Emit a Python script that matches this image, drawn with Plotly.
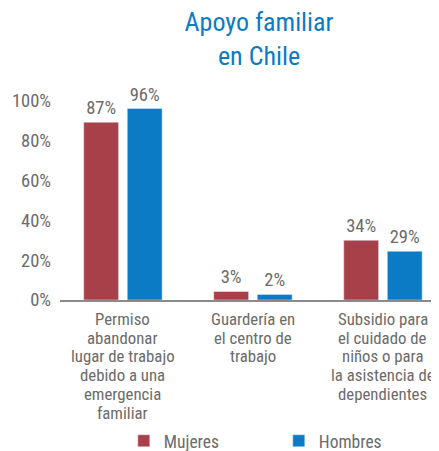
import plotly.graph_objects as go

categories = ["Permiso<br>abandonar<br>lugar de trabajo<br>debido a una<br>emergencia<br>familiar",
              "Guardería en<br>el centro de<br>trabajo",
              "Subsidio para<br>el cuidado de<br>niños o para<br>la asistencia de<br>dependientes"]
cat_keys = ["c1", "c2", "c3"]
mujeres = [89.3, 4.3, 30.0]
hombres = [96.2, 2.8, 24.5]
mujeres_labels = ["87%", "3%", "34%"]
hombres_labels = ["96%", "2%", "29%"]
y_ticks = [0, 20, 40, 60, 80, 100]
y_ticktext = ["0%", "20%", "40%", "60%", "80%", "100%"]

FONT = "Roboto Condensed, Liberation Sans Narrow, DejaVu Sans Condensed, sans-serif"
GRAY = "#6b6b6b"
RED = "#a8404a"
BLUE = "#0a7bc4"

# page body has an 8px default margin, so the figure is 8px smaller than the window
W, H = 431, 443

fig = go.Figure()
fig.add_trace(go.Bar(name="Mujeres", x=cat_keys, y=mujeres, marker_color=RED,
                     text=mujeres_labels, textposition="outside", cliponaxis=False,
                     textfont=dict(size=18.5, color=GRAY, family=FONT)))
fig.add_trace(go.Bar(name="Hombres", x=cat_keys, y=hombres, marker_color=BLUE,
                     text=hombres_labels, textposition="outside", cliponaxis=False,
                     textfont=dict(size=18.5, color=GRAY, family=FONT)))

annotations = []
for key, label in zip(cat_keys, categories):
    for j, line in enumerate(label.split("<br>")):
        annotations.append(dict(x=key, xref="x", y=0, yref="paper", text=line,
                                showarrow=False, xanchor="center", yanchor="middle",
                                yshift=-(19 + j * 18.7),
                                font=dict(size=16.8, color=GRAY, family=FONT)))

fig.update_layout(
    width=W, height=H,
    margin=dict(l=52, r=6, t=93, b=150.5, autoexpand=False),
    paper_bgcolor="white", plot_bgcolor="white",
    barmode="group", bargap=0.33, bargroupgap=0.2,
    title=dict(text="Apoyo familiar<br>en Chile", x=251/W, xref="container", xanchor="center",
               y=1 - 23/H, yref="container", yanchor="middle",
               font=dict(size=26, color=BLUE, family=FONT)),
    xaxis=dict(type="category", range=[-0.484, 2.385], showticklabels=False,
               showline=True, linecolor="#8a8a8a", linewidth=1.5, ticks="",
               showgrid=False, zeroline=False, automargin=False),
    yaxis=dict(range=[0, 100], tickvals=y_ticks, ticktext=y_ticktext, showgrid=False,
               zeroline=False, showline=False, ticks="", ticklabelstandoff=8,
               automargin=False,
               tickfont=dict(size=18.5, color=GRAY, family=FONT)),
    showlegend=True,
    legend=dict(orientation="h", x=0.171, xanchor="left", y=-0.708, yanchor="middle",
                entrywidth=110, entrywidthmode="pixels",
                font=dict(size=17.5, color=GRAY, family=FONT)),
    annotations=annotations,
)

fig.write_html("out.html")
